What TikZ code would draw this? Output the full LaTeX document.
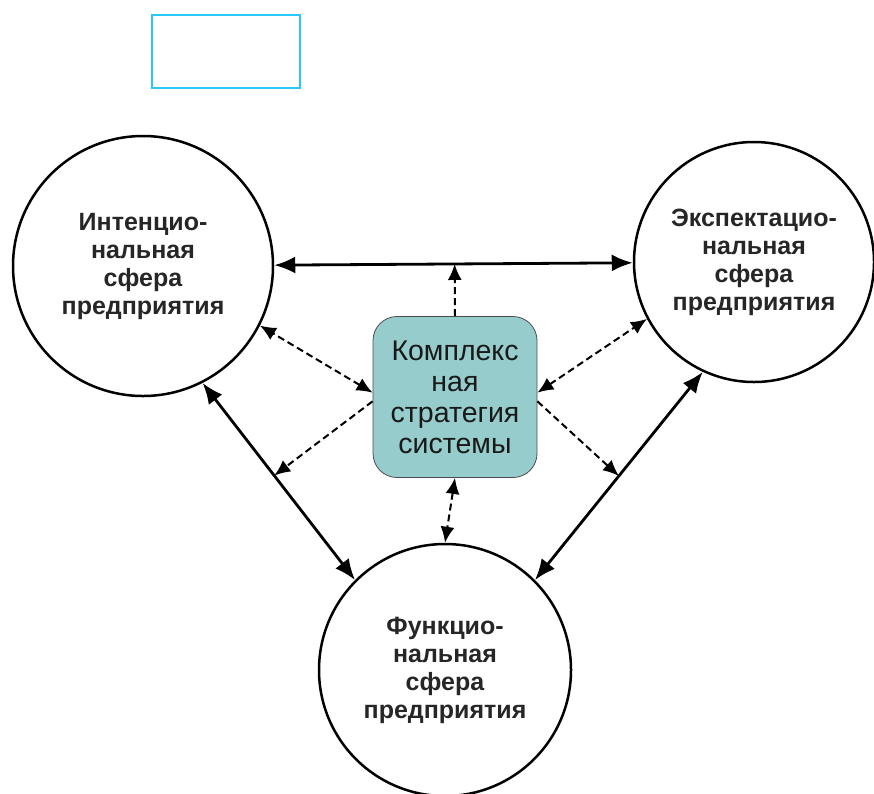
\documentclass[tikz,border=0pt]{standalone}
\usepackage{fontspec}
\setmainfont{Liberation Sans}
\usepackage{tikz}
\usetikzlibrary{arrows.meta, positioning, calc}
\definecolor{stratfill}{RGB}{150,204,204}
\definecolor{framecyan}{RGB}{40,200,255}

\begin{document}
\begin{tikzpicture}[
        x=1pt, y=-1pt,
        >={Latex[length=21pt, width=17pt]},
        sphere/.style={draw, circle, line width=2.5pt, inner sep=0pt, align=center, text=black!85, font=\fontsize{25}{28}\selectfont\bfseries},
        stratbox/.style={draw=black!70, line width=0.8pt, rounded corners=24pt, fill=stratfill, minimum width=164pt, minimum height=161pt, align=center, text=black!90, font=\fontsize{28.5}{31}\selectfont},
        link/.style={<->, line width=2.8pt},
        dlink/.style={->, >={Latex[length=16pt, width=14pt]}, line width=2pt, dash pattern=on 7pt off 4pt}
    ]
    \useasboundingbox (0,0) rectangle (874,793);
    \node[draw=framecyan, line width=2pt, minimum width=148pt, minimum height=73pt] (blank) at (226,51.5) {};
    \node[sphere, minimum size=260pt] (intent) at (143,266) {Интенцио-\\нальная\\сфера\\предприятия};
    \node[sphere, minimum size=240pt] (expect) at (754,262) {Экспектацио-\\нальная\\сфера\\предприятия};
    \node[sphere, minimum size=252pt] (funct) at (445,670) {Функцио-\\нальная\\сфера\\предприятия};
    \node[stratbox] (strat) at (455,397) {Комплекс\\ная\\стратегия\\системы};
    % solid links between the spheres
    \draw[link] (intent) -- (expect);
    \draw[link] (intent.-63) -- (funct.135);
    \draw[link] (expect.-115) -- (funct.45);
    % feet of the dashed links on the solid ones
    \coordinate (topfoot) at ($(intent)!(strat.north)!(expect)$);
    \path (intent.-63) -- (funct.135) coordinate[pos=0.47] (leftfoot);
    \path (expect.-115) -- (funct.45) coordinate[pos=0.5] (rightfoot);
    % dashed links from the strategy
    \draw[dlink] (strat.north) -- (topfoot);
    \draw[dlink, <->] (strat.177) -- (intent.-27);
    \draw[dlink] (strat.183) -- (leftfoot);
    \draw[dlink, <->] (strat.3) -- (expect.208);
    \draw[dlink] (strat.-3) -- (rightfoot);
    \draw[dlink, <->] (strat.south) -- (funct.north);
\end{tikzpicture}
\end{document}
